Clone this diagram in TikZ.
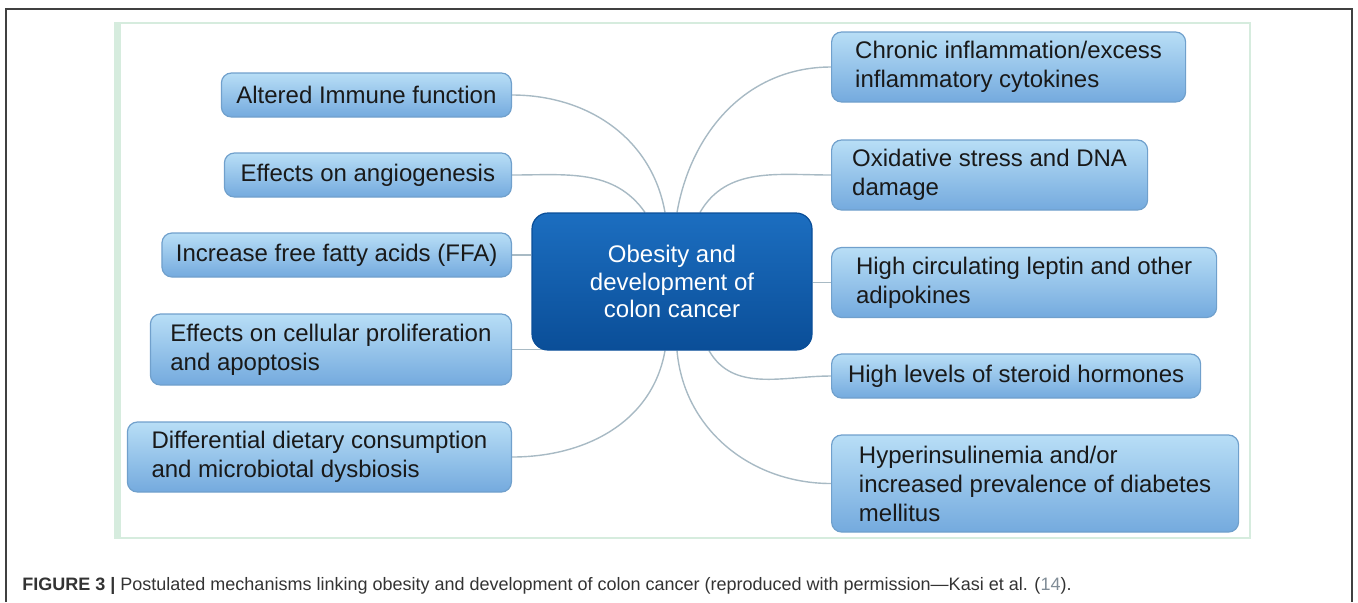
\documentclass[tikz,border=0pt]{standalone}
\usepackage{fontspec}
\setmainfont{Liberation Sans}
\usetikzlibrary{backgrounds}

\definecolor{boxtop}{RGB}{184,222,246}
\definecolor{boxbottom}{RGB}{116,170,222}
\definecolor{boxline}{RGB}{112,160,204}
\definecolor{hubtop}{RGB}{28,110,192}
\definecolor{hubbottom}{RGB}{10,78,152}
\definecolor{linkgray}{RGB}{168,186,196}
\definecolor{panelgreen}{RGB}{214,236,222}
\definecolor{refgray}{RGB}{128,140,150}

\begin{document}
\begin{tikzpicture}[x=0.5pt, y=0.5pt,
    factor/.style={rectangle, rounded corners=5pt, draw=boxline, line width=0.6pt,
        top color=boxtop, bottom color=boxbottom, align=left, text=black!90,
        font=\fontsize{12}{14.5}\selectfont, inner xsep=7pt},
    hub/.style={rectangle, rounded corners=8pt, draw=hubbottom, line width=0.6pt,
        top color=hubtop, bottom color=hubbottom, align=center, text=white,
        font=\fontsize{12}{13.75}\selectfont, minimum width=140pt, minimum height=68.5pt},
    link/.style={draw=linkgray, line width=0.7pt}]
                \useasboundingbox (0,0) rectangle (1358,-602);

                % Ramka i tlo
                \draw[black!75, line width=0.6pt] (6,-602) -- (6,-9) -- (1352,-9) -- (1352,-602);
                \draw[panelgreen, line width=1pt] (115,-23) rectangle (1250,-538);
                \fill[panelgreen] (115,-23) rectangle (121,-538);

                % Wezly
                \node (hub) [hub] at (672,-281.5) {Obesity and\\development of\\colon cancer};

                \node (factor1) [factor, anchor=east, minimum width=145pt, minimum height=22pt] at (512,-95) {Altered Immune function};
                \node (factor2) [factor, anchor=east, minimum width=143.5pt, minimum height=22pt] at (512,-175) {Effects on angiogenesis};
                \node (factor3) [factor, anchor=east, minimum width=172pt, minimum height=22pt] at (512,-255) {Increase free fatty acids (FFA)};
                \node (factor4) [factor, anchor=east, minimum width=180.5pt, minimum height=35.5pt] at (512,-349.5) {Effects on cellular proliferation\\and apoptosis};
                \node (factor5) [factor, anchor=east, minimum width=192pt, minimum height=35pt] at (512,-457) {Differential dietary consumption\\and microbiotal dysbiosis};

                \node (factor6) [factor, anchor=west, minimum width=177pt, minimum height=35pt] at (831,-67) {Chronic inflammation/excess\\inflammatory cytokines};
                \node (factor7) [factor, anchor=west, minimum width=158pt, minimum height=35pt] at (831,-175) {Oxidative stress and DNA\\damage};
                \node (factor8) [factor, anchor=west, minimum width=192.5pt, minimum height=35pt] at (831,-282.5) {High circulating leptin and other\\adipokines};
                \node (factor9) [factor, anchor=west, minimum width=184.5pt, minimum height=22pt] at (831,-376) {High levels of steroid hormones};
                \node (factor10) [factor, anchor=west, minimum width=203.5pt, minimum height=48.5pt] at (831,-483.5) {Hyperinsulinemia and/or\\increased prevalence of diabetes\\mellitus};

                % Polaczenia
                \begin{pgfonlayer}{background}
                \draw[link] (factor1.east) to[out=0, in=100] ([xshift=-3.5pt]hub.north);
                \draw[link] (factor2.east) to[out=0, in=125] ([xshift=-13.5pt]hub.north);
                \draw[link] (factor3.east) -- (factor3.east -| hub.west);
                \draw[link] (factor4.east) -- ([xshift=8pt]factor4.east -| hub.west);
                \draw[link] (factor5.east) to[out=0, in=-100] ([xshift=-3.5pt]hub.south);
                \draw[link] ([xshift=2.5pt]hub.north) to[out=80, in=180] (factor6.west);
                \draw[link] ([xshift=14pt]hub.north) to[out=60, in=180] (factor7.west);
                \draw[link] (hub.east |- factor8.west) -- (factor8.west);
                \draw[link] ([xshift=18.5pt]hub.south) to[out=-60, in=180] (factor9.west);
                \draw[link] ([xshift=2.5pt]hub.south) to[out=-85, in=180] (factor10.west);
                \end{pgfonlayer}

                % Podpis
                \node (caption) [anchor=base west, inner sep=0pt, text=black!80, font=\fontsize{9}{11}\selectfont] at (22,-590) {\textbf{FIGURE 3 |} Postulated mechanisms linking obesity and development of colon cancer (reproduced with permission—Kasi et al. (\textcolor{refgray}{14}).};
            \end{tikzpicture}
\end{document}
